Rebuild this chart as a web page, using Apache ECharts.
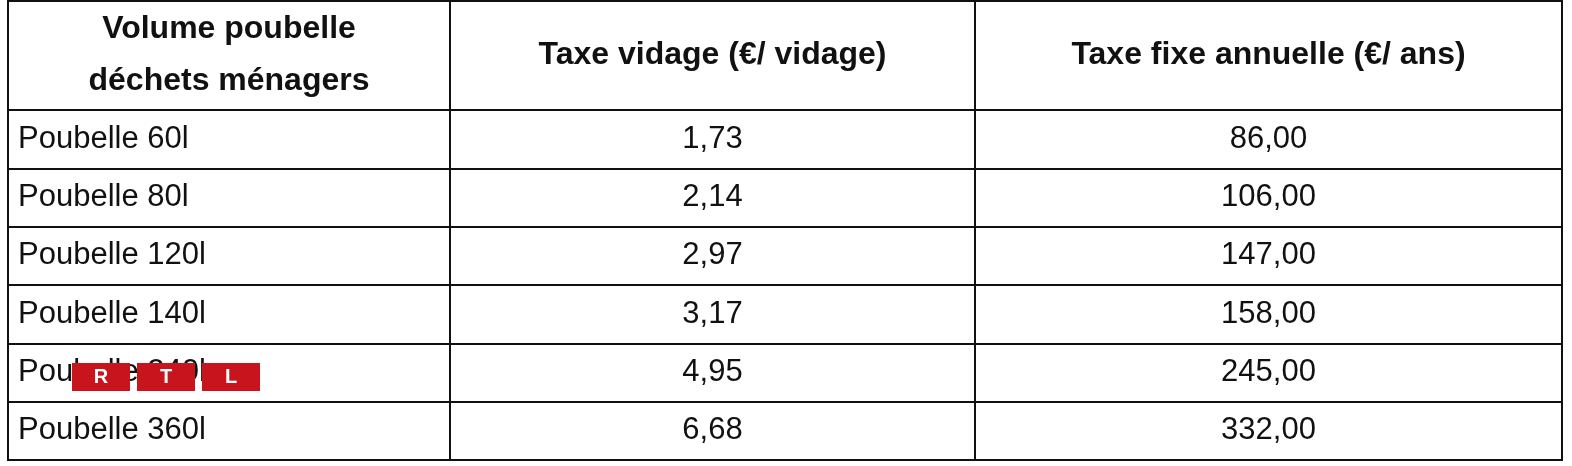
<!DOCTYPE html>
<html><head><meta charset="utf-8">
<script src="https://cdn.jsdelivr.net/npm/echarts@6/dist/echarts.min.js"></script>
<style>html,body{margin:0;padding:0;background:#fff}#c{width:1572px;height:466px}</style>
</head><body><div id="c"></div>
<script>
const headers = ['Volume poubelle\ndéchets ménagers', 'Taxe vidage (€/ vidage)', 'Taxe fixe annuelle (€/ ans)'];
const volumes = ['Poubelle 60l', 'Poubelle 80l', 'Poubelle 120l', 'Poubelle 140l', 'Poubelle 240l', 'Poubelle 360l'];
const taxeVidage = [1.73, 2.14, 2.97, 3.17, 4.95, 6.68];
const taxeFixe = [86.00, 106.00, 147.00, 158.00, 245.00, 332.00];

const FONT = 'Liberation Sans, Arial, sans-serif';
const cols = [{left: 8, width: 442}, {left: 450, width: 525}, {left: 975, width: 587}];
const bodyTop = 110, bodyHeight = 350;
const fmt = v => v.toFixed(2).replace('.', ',');
const logoLetters = ['R', 'T', 'L'];

const chart = echarts.init(document.getElementById('c'));
const logo = [];
logoLetters.forEach((t, i) => {
  const x = 72 + i * 65;
  logo.push({type: 'rect', z: 1000, zlevel: 5, shape: {x: x, y: 363, width: 58, height: 28}, style: {fill: '#c8141c'}});
  logo.push({type: 'text', z: 1001, zlevel: 5, x: x + 29, y: 377, style: {text: t, fill: '#fff', font: 'bold 20px ' + FONT, align: 'center', verticalAlign: 'middle'}});
});
chart.setOption({
  backgroundColor: '#fff',
  animation: false,
  grid: cols.map(c => ({left: c.left, width: c.width, top: bodyTop, height: bodyHeight, show: true, borderColor: '#111', borderWidth: 2, backgroundColor: 'transparent'})),
  xAxis: headers.map((h, i) => ({
    type: 'category', gridIndex: i, position: 'top', data: [h],
    axisLine: {show: false}, axisTick: {show: false}, splitLine: {show: false},
    axisLabel: {show: true, margin: 55, verticalAlign: 'middle', color: '#111', fontFamily: FONT, fontWeight: 'bold', fontSize: 32, lineHeight: 52, align: 'center'}
  })),
  yAxis: cols.map((c, i) => ({
    type: 'category', gridIndex: i, inverse: true, data: volumes,
    axisLine: {show: false}, axisTick: {show: false},
    splitLine: {show: true, lineStyle: {color: '#111', width: 2}},
    axisLabel: {show: i === 0, inside: true, margin: 10, color: '#111', fontFamily: FONT, fontSize: 31, align: 'left', padding: [6, 0, 0, 0]}
  })),
  series: [taxeVidage, taxeFixe].map((arr, k) => ({
    type: 'scatter', xAxisIndex: k + 1, yAxisIndex: k + 1, symbolSize: 0, silent: true,
    itemStyle: {opacity: 1},
    data: arr.map((v, i) => [0, i, v]),
    label: {show: true, position: 'inside', formatter: p => fmt(p.value[2]), color: '#111', opacity: 1, fontFamily: FONT, fontSize: 31, padding: [6, 0, 0, 0]}
  })),
  graphic: [
    {type: 'rect', shape: {x: 8, y: 1, width: 1554, height: 109}, style: {fill: 'none', stroke: '#111', lineWidth: 2}},
    {type: 'line', shape: {x1: 450, y1: 0, x2: 450, y2: 110}, style: {stroke: '#111', lineWidth: 2}},
    {type: 'line', shape: {x1: 975, y1: 0, x2: 975, y2: 110}, style: {stroke: '#111', lineWidth: 2}}
  ].concat(logo)
});
</script></body></html>
